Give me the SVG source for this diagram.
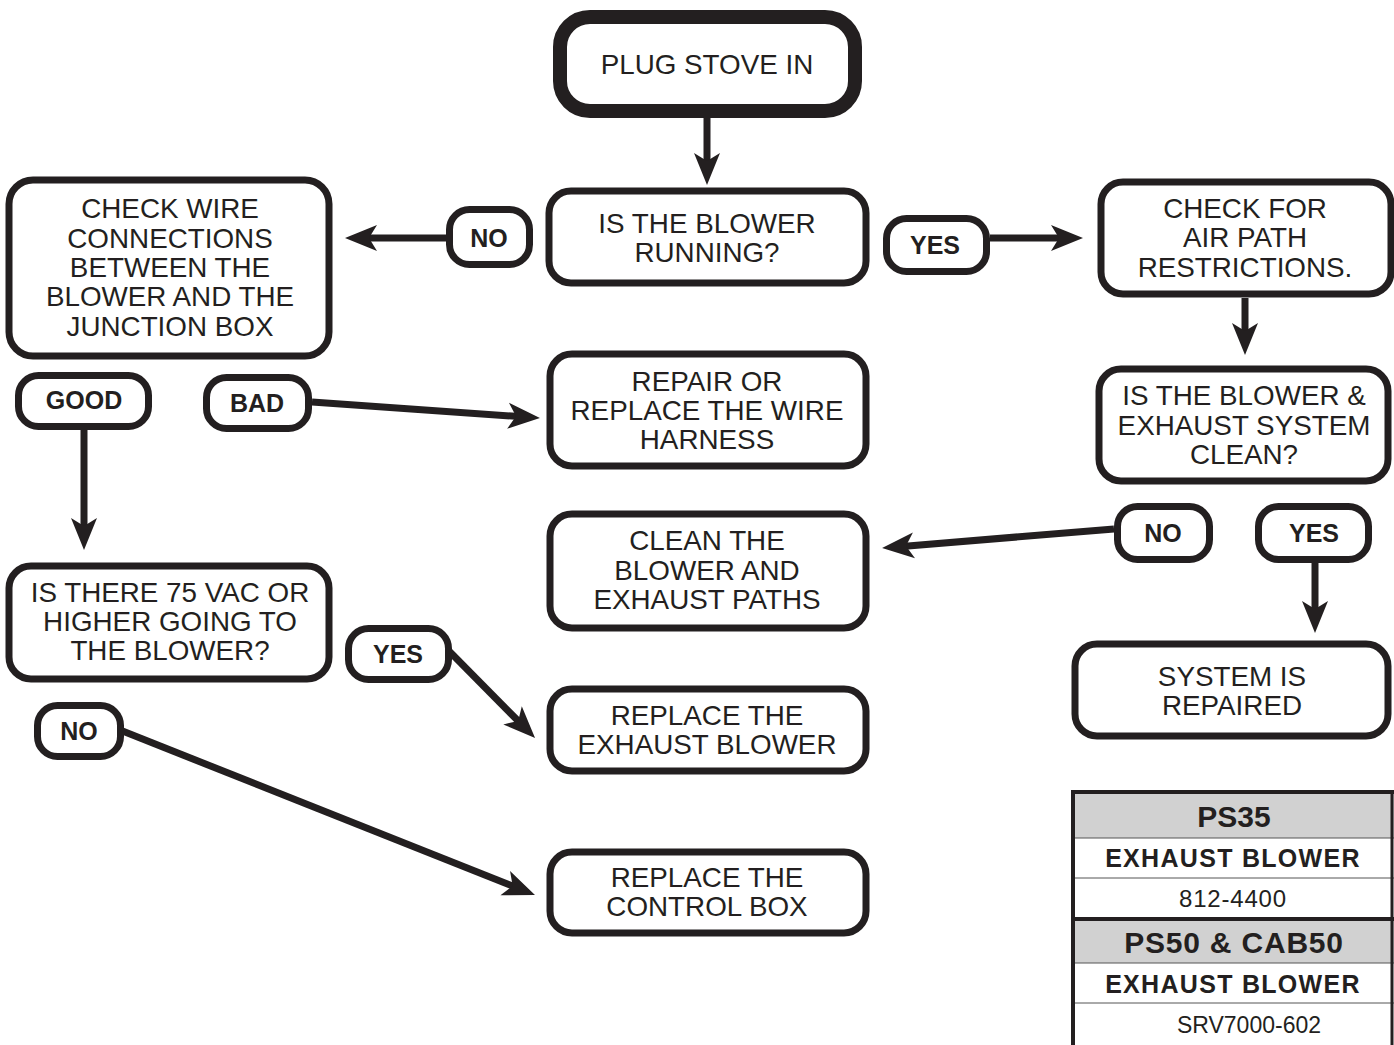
<svg xmlns="http://www.w3.org/2000/svg" width="1394" height="1045" viewBox="0 0 1394 1045">
<defs>
<marker id="ah" viewBox="0 0 32 28" refX="12" refY="14" markerWidth="32" markerHeight="28" markerUnits="userSpaceOnUse" orient="auto">
<path d="M0,1 L32,14 L0,27 L8,14 Z" fill="#231f20"/>
</marker>
<style>
.box{fill:#fff;stroke:#231f20;stroke-width:7}
.lab{fill:#fff;stroke:#231f20;stroke-width:7}
.t{font-family:"Liberation Sans",Arial,sans-serif;font-size:27.8px;fill:#231f20;text-anchor:middle}
.b{font-family:"Liberation Sans",Arial,sans-serif;font-size:25px;font-weight:bold;fill:#231f20;text-anchor:middle}
.c{stroke:#231f20;stroke-width:7;fill:none;marker-end:url(#ah)}
.g{fill:#d1d1d1}
.th{font-family:"Liberation Sans",Arial,sans-serif;font-weight:bold;fill:#231f20;text-anchor:middle}
.tr{font-family:"Liberation Sans",Arial,sans-serif;fill:#231f20;text-anchor:middle}
</style>
</defs>
<rect width="1394" height="1045" fill="#fff"/>

<g id="connectors">
<line class="c" x1="707" y1="118" x2="707" y2="165"/>
<line class="c" x1="446" y1="238" x2="365" y2="238"/>
<line class="c" x1="990" y1="238" x2="1063" y2="238"/>
<line class="c" x1="1245" y1="298" x2="1245" y2="335"/>
<line class="c" x1="1114" y1="529" x2="902" y2="546.4"/>
<line class="c" x1="1315" y1="563" x2="1315" y2="613"/>
<line class="c" x1="312" y1="402" x2="520" y2="416.6"/>
<line class="c" x1="84" y1="430" x2="84" y2="530"/>
<line class="c" x1="448" y1="650" x2="521" y2="723.8"/>
<line class="c" x1="120" y1="730" x2="516.4" y2="887.6"/>
</g>

<g id="plug">
<rect x="560" y="17" width="295" height="94" rx="30" fill="#fff" stroke="#231f20" stroke-width="14"/>
<text class="t" x="707" y="74">PLUG STOVE IN</text>
</g>

<g id="running">
<rect class="box" x="549" y="191" width="317" height="92" rx="22"/>
<text class="t" x="707" y="233">IS THE BLOWER</text>
<text class="t" x="707" y="262">RUNNING?</text>
</g>

<g id="checkwire">
<rect class="box" x="9" y="180" width="320" height="176" rx="24"/>
<text class="t" x="170" y="218">CHECK WIRE</text>
<text class="t" x="170" y="248">CONNECTIONS</text>
<text class="t" x="170" y="277">BETWEEN THE</text>
<text class="t" x="170" y="306">BLOWER AND THE</text>
<text class="t" x="170" y="336">JUNCTION BOX</text>
</g>

<g id="no1">
<rect class="lab" x="449.5" y="209.5" width="80" height="55" rx="20"/>
<text class="b" x="489" y="247">NO</text>
</g>

<g id="yes1">
<rect class="lab" x="886.5" y="218.5" width="100" height="53" rx="20"/>
<text class="b" x="935" y="254">YES</text>
</g>

<g id="airpath">
<rect class="box" x="1101" y="182" width="290" height="112" rx="22"/>
<text class="t" x="1245" y="218">CHECK FOR</text>
<text class="t" x="1245" y="247">AIR PATH</text>
<text class="t" x="1245" y="277">RESTRICTIONS.</text>
</g>

<g id="clean_q">
<rect class="box" x="1099" y="369" width="289" height="112" rx="22"/>
<text class="t" x="1244" y="405">IS THE BLOWER &amp;</text>
<text class="t" x="1244" y="435">EXHAUST SYSTEM</text>
<text class="t" x="1244" y="464">CLEAN?</text>
</g>

<g id="no2">
<rect class="lab" x="1117.5" y="506.5" width="92" height="53" rx="20"/>
<text class="b" x="1163" y="542">NO</text>
</g>

<g id="yes2">
<rect class="lab" x="1258.5" y="506.5" width="110" height="53" rx="20"/>
<text class="b" x="1314" y="542">YES</text>
</g>

<g id="cleanpaths">
<rect class="box" x="550" y="514" width="316" height="114" rx="22"/>
<text class="t" x="707" y="550">CLEAN THE</text>
<text class="t" x="707" y="580">BLOWER AND</text>
<text class="t" x="707" y="609">EXHAUST PATHS</text>
</g>

<g id="repaired">
<rect class="box" x="1075" y="644" width="313" height="92" rx="22"/>
<text class="t" x="1232" y="686">SYSTEM IS</text>
<text class="t" x="1232" y="715">REPAIRED</text>
</g>

<g id="harness">
<rect class="box" x="550" y="354" width="316" height="112" rx="22"/>
<text class="t" x="707" y="391">REPAIR OR</text>
<text class="t" x="707" y="420">REPLACE THE WIRE</text>
<text class="t" x="707" y="449">HARNESS</text>
</g>

<g id="good">
<rect class="lab" x="18.5" y="375.5" width="130" height="51" rx="20"/>
<text class="b" x="84" y="409">GOOD</text>
</g>

<g id="bad">
<rect class="lab" x="206.5" y="377.5" width="102" height="51" rx="20"/>
<text class="b" x="257" y="412">BAD</text>
</g>

<g id="vac">
<rect class="box" x="9" y="566" width="320" height="113" rx="22"/>
<text class="t" x="170" y="602">IS THERE 75 VAC OR</text>
<text class="t" x="170" y="631">HIGHER GOING TO</text>
<text class="t" x="170" y="660">THE BLOWER?</text>
</g>

<g id="yes3">
<rect class="lab" x="348.5" y="628.5" width="100" height="51" rx="20"/>
<text class="b" x="398" y="663">YES</text>
</g>

<g id="no3">
<rect class="lab" x="37.5" y="705.5" width="83" height="51" rx="20"/>
<text class="b" x="79" y="740">NO</text>
</g>

<g id="exhaustblower">
<rect class="box" x="550" y="689" width="316" height="82" rx="22"/>
<text class="t" x="707" y="725">REPLACE THE</text>
<text class="t" x="707" y="754">EXHAUST BLOWER</text>
</g>

<g id="controlbox">
<rect class="box" x="550" y="852" width="316" height="81" rx="22"/>
<text class="t" x="707" y="887">REPLACE THE</text>
<text class="t" x="707" y="916">CONTROL BOX</text>
</g>

<g id="parts">
<rect class="g" x="1072" y="792" width="322" height="46"/>
<rect class="g" x="1072" y="920" width="322" height="43"/>
<line x1="1072" y1="878" x2="1394" y2="878" stroke="#555" stroke-width="1"/>
<line x1="1072" y1="838" x2="1394" y2="838" stroke="#555" stroke-width="1"/>
<line x1="1072" y1="963" x2="1394" y2="963" stroke="#555" stroke-width="1"/>
<line x1="1072" y1="1003" x2="1394" y2="1003" stroke="#555" stroke-width="1"/>
<line x1="1072" y1="919" x2="1394" y2="919" stroke="#231f20" stroke-width="4"/>
<line x1="1072" y1="792" x2="1394" y2="792" stroke="#231f20" stroke-width="4"/>
<line x1="1073" y1="790" x2="1073" y2="1045" stroke="#231f20" stroke-width="4"/>
<line x1="1392" y1="790" x2="1392" y2="1045" stroke="#231f20" stroke-width="3"/>
<text class="th" x="1234" y="827" font-size="30">PS35</text>
<text class="th" x="1233" y="867" font-size="25" letter-spacing="1.3">EXHAUST BLOWER</text>
<text class="tr" x="1233" y="907" font-size="24" letter-spacing="0.8">812-4400</text>
<text class="th" x="1234" y="953" font-size="30" letter-spacing="0.8">PS50 &amp; CAB50</text>
<text class="th" x="1233" y="993" font-size="25" letter-spacing="1.3">EXHAUST BLOWER</text>
<text class="tr" x="1249" y="1033" font-size="23">SRV7000-602</text>
</g>
</svg>
